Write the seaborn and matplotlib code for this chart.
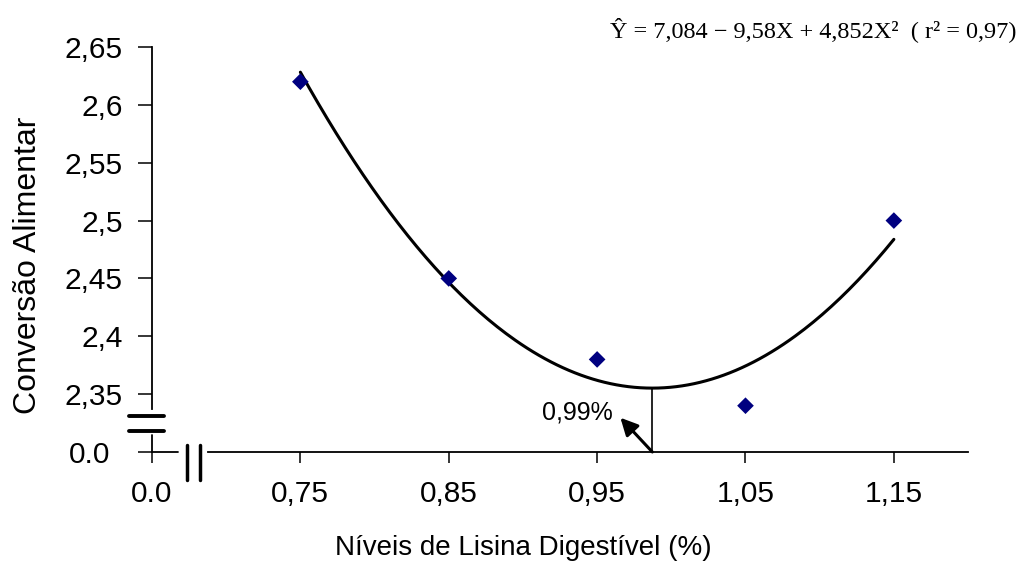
import numpy as np
import pandas as pd
import seaborn as sns
from matplotlib import pyplot as plt

# dados do gráfico
lisina = [0.75, 0.85, 0.95, 1.05, 1.15]
conversao = [2.62, 2.45, 2.38, 2.34, 2.50]
coef = [4.852, -9.58, 7.084]  # X², X, constante (equação do gráfico)

x_ticks = [0.65, 0.75, 0.85, 0.95, 1.05, 1.15]
x_tick_labels = ["0.0", "0,75", "0,85", "0,95", "1,05", "1,15"]
y_ticks = [2.30, 2.35, 2.40, 2.45, 2.50, 2.55, 2.60, 2.65]
y_tick_labels = ["0.0", "2,35", "2,4", "2,45", "2,5", "2,55", "2,6", "2,65"]

sns.set_theme(style='ticks')
plt.rcParams['font.family'] = ['Liberation Sans', 'DejaVu Sans']

fig = plt.figure(figsize=(10.27, 5.72), dpi=100)
ax = fig.add_axes([0.148, 0.2098, 0.7946, 0.708])

# curva de regressão
x_fit = np.linspace(lisina[0], lisina[-1], 200)
df_fit = pd.DataFrame({'x': x_fit, 'y': np.polyval(coef, x_fit)})
sns.lineplot(data=df_fit, x='x', y='y', color='black', lw=2.2, ax=ax)

# pontos observados
df = pd.DataFrame({'Lisina': lisina, 'CA': conversao})
sns.scatterplot(data=df, x='Lisina', y='CA', marker='D', s=72, color='#000080',
                edgecolor='none', ax=ax, zorder=3)

ax.set_xlim(0.65, 1.20)
ax.set_ylim(2.30, 2.65)

# ponto de mínimo
x_min = -coef[1] / (2 * coef[0])
y_min = np.polyval(coef, x_min)
ax.plot([x_min, x_min], [2.30, y_min], color='black', lw=1.2)
ax.annotate('', xy=(0.9657, 2.3296), xytext=(x_min, 2.30),
            arrowprops=dict(arrowstyle='-|>', color='black', lw=2.2,
                            mutation_scale=26, shrinkA=0, shrinkB=0))
ax.text(0.9603, 2.3339, '0,99%', ha='right', va='center', fontsize=18, color='black')

# eixos com quebra
for s in ['top', 'right']:
    ax.spines[s].set_visible(False)
ax.spines['left'].set_bounds(2.3372, 2.65)
ax.spines['bottom'].set_bounds(0.6878, 1.20)
for s in ['left', 'bottom']:
    ax.spines[s].set_linewidth(1.3)
    ax.spines[s].set_color('black')
ax.plot([0.65, 0.65], [2.30, 2.3148], color='black', lw=1.3, clip_on=False)
ax.plot([0.65, 0.6675], [2.30, 2.30], color='black', lw=1.3, clip_on=False)
for yb in [2.3309, 2.3178]:
    ax.plot([0.6345, 0.6581], [yb, yb], color='black', lw=2.8, clip_on=False)
for xb in [0.6736, 0.6824]:
    ax.plot([xb, xb], [2.3061, 2.2757], color='black', lw=2.5, clip_on=False)

ax.set_xticks(x_ticks)
ax.set_xticklabels(x_tick_labels)
ax.set_yticks(y_ticks)
ax.set_yticklabels(y_tick_labels)
ax.tick_params(axis='y', direction='out', length=10, width=1.1, pad=11,
               labelsize=21.5, colors='black')
ax.tick_params(axis='x', direction='out', length=8, width=1.1, pad=12,
               labelsize=21.5, colors='black')
ax.yaxis.get_major_ticks()[0].set_pad(20)

ax.set_xlabel('Níveis de Lisina Digestível (%)', fontsize=20, color='black', va='center')
ax.set_ylabel('Conversão Alimentar', fontsize=23, color='black', va='center')
ax.xaxis.set_label_coords(0.455, -0.237)
ax.yaxis.set_label_coords(-0.152, 0.46)

fig.text(0.990, 0.948, 'Ŷ = 7,084 − 9,58X + 4,852X²  ( r² = 0,97)', ha='right',
         va='center', family=['Liberation Serif', 'DejaVu Serif'], fontsize=17.5, color='black')

fig.savefig('out.png', dpi=100)
